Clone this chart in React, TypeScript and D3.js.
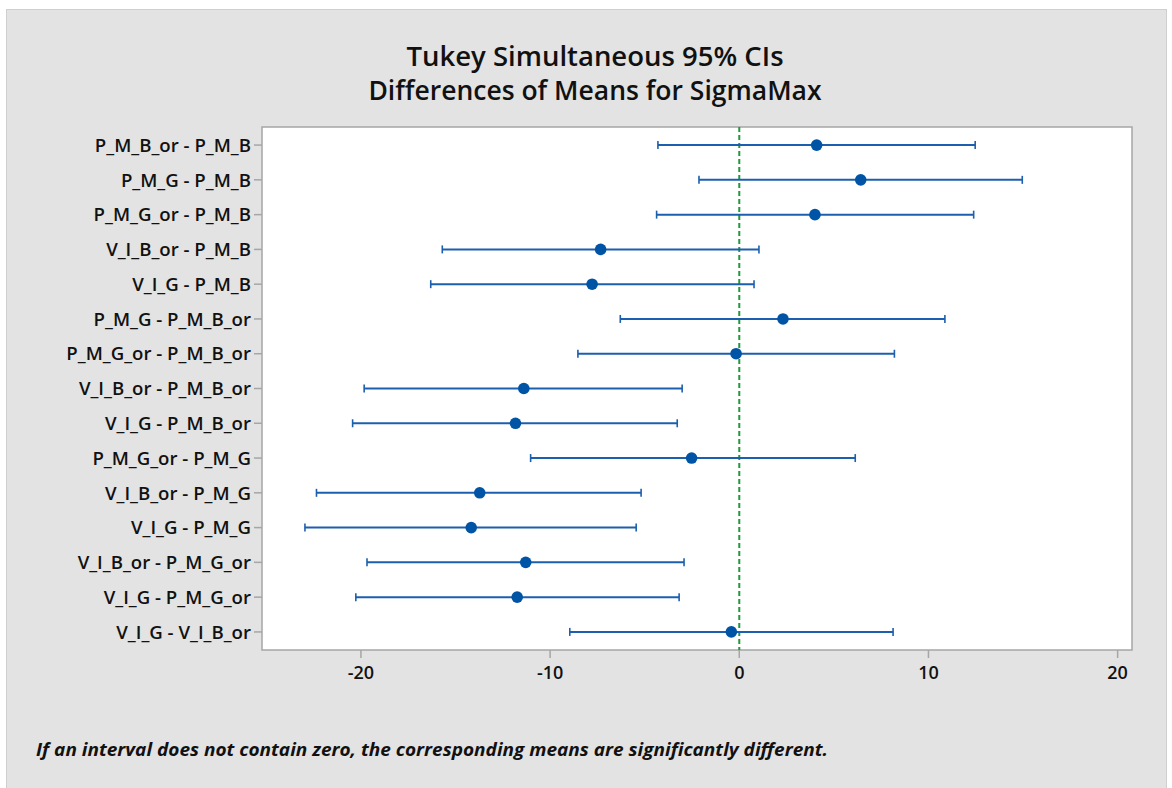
import React from 'react';
import * as d3 from 'd3';

// comparisons, top to bottom
const comparisons = [
  'P_M_B_or - P_M_B',
  'P_M_G - P_M_B',
  'P_M_G_or - P_M_B',
  'V_I_B_or - P_M_B',
  'V_I_G - P_M_B',
  'P_M_G - P_M_B_or',
  'P_M_G_or - P_M_B_or',
  'V_I_B_or - P_M_B_or',
  'V_I_G - P_M_B_or',
  'P_M_G_or - P_M_G',
  'V_I_B_or - P_M_G',
  'V_I_G - P_M_G',
  'V_I_B_or - P_M_G_or',
  'V_I_G - P_M_G_or',
  'V_I_G - V_I_B_or',
];

const diffs = [4.09, 6.42, 4.0, -7.33, -7.78, 2.31, -0.17, -11.39, -11.83, -2.52, -13.72, -14.17, -11.29, -11.74, -0.42];
const lowers = [-4.30, -2.13, -4.37, -15.70, -16.31, -6.29, -8.53, -19.83, -20.44, -11.03, -22.35, -22.96, -19.68, -20.27, -8.96];
const uppers = [12.47, 14.96, 12.39, 1.04, 0.78, 10.87, 8.20, -3.02, -3.28, 6.13, -5.19, -5.45, -2.92, -3.18, 8.13];

const xTicks = [-20, -10, 0, 10, 20];

const titleLines = ['Tukey Simultaneous 95% CIs', 'Differences of Means for SigmaMax'];
const footnote = 'If an interval does not contain zero, the corresponding means are significantly different.';

const W = 1172;
const H = 788;
const font = "'Open Sans', 'Noto Sans', sans-serif";

const plot = { left: 262, right: 1132, top: 127, bottom: 650 };

export default function App() {
  const x = d3.scaleLinear()
    .domain([-25.23, 20.76])
    .range([plot.left, plot.right]);

  const y = d3.scalePoint<string>()
    .domain(comparisons)
    .range([plot.top, plot.bottom])
    .padding(0.52);

  const blue = '#1c5fae';
  const dot = '#0054a6';
  const axisGray = '#a6a6a6';

  const intervals = comparisons.map(function (c, i) {
    const cy = y(c) as number;
    return (
      <g key={c}>
        <line x1={x(lowers[i])} x2={x(uppers[i])} y1={cy} y2={cy} stroke={blue} strokeWidth={2} />
        <line x1={x(lowers[i])} x2={x(lowers[i])} y1={cy - 4} y2={cy + 4} stroke={blue} strokeWidth={1.6} />
        <line x1={x(uppers[i])} x2={x(uppers[i])} y1={cy - 4} y2={cy + 4} stroke={blue} strokeWidth={1.6} />
      </g>
    );
  });

  const dots = comparisons.map(function (c, i) {
    return <circle key={c} cx={x(diffs[i])} cy={y(c) as number} r={5.8} fill={dot} />;
  });

  const yLabels = comparisons.map(function (c) {
    const cy = y(c) as number;
    return (
      <g key={c}>
        <line x1={plot.left - 8} x2={plot.left} y1={cy} y2={cy} stroke={axisGray} strokeWidth={1.5} />
        <text x={plot.left - 11} y={cy} dy="0.36em" textAnchor="end" fontSize={18.6} fontWeight={600} fill="#111">
          {c}
        </text>
      </g>
    );
  });

  const xLabels = xTicks.map(function (t) {
    return (
      <g key={t}>
        <line x1={x(t)} x2={x(t)} y1={plot.bottom} y2={plot.bottom + 8} stroke={axisGray} strokeWidth={1.5} />
        <text x={x(t)} y={679} textAnchor="middle" fontSize={18} fontWeight={600} fill="#111">
          {t}
        </text>
      </g>
    );
  });

  return (
    <svg width={W} height={H} style={{ position: 'absolute', left: 0, top: 0 }} fontFamily={font}>
      <rect x={0} y={0} width={W} height={H} fill="#fff" />
      <rect x={6.5} y={9.5} width={1160} height={790} fill="#e3e3e3" stroke="#cfcfcf" strokeWidth={1} />

      <text x={595} y={66} textAnchor="middle" fontSize={27.5} fontWeight={600} fill="#111">{titleLines[0]}</text>
      <text x={595} y={100} textAnchor="middle" fontSize={26.5} fontWeight={600} fill="#111">{titleLines[1]}</text>

      <rect x={plot.left} y={plot.top} width={plot.right - plot.left} height={plot.bottom - plot.top}
            fill="#fff" stroke={axisGray} strokeWidth={1.5} />

      <line x1={x(0)} x2={x(0)} y1={plot.top} y2={plot.bottom} stroke="#1e9a3c" strokeWidth={2} strokeDasharray="5,3" />

      {intervals}
      {dots}
      {yLabels}
      {xLabels}

      <text x={36} y={756} fontSize={18.5} fontWeight={700} fontStyle="italic" fill="#111"
            textLength={792} lengthAdjust="spacingAndGlyphs">{footnote}</text>
    </svg>
  );
}
